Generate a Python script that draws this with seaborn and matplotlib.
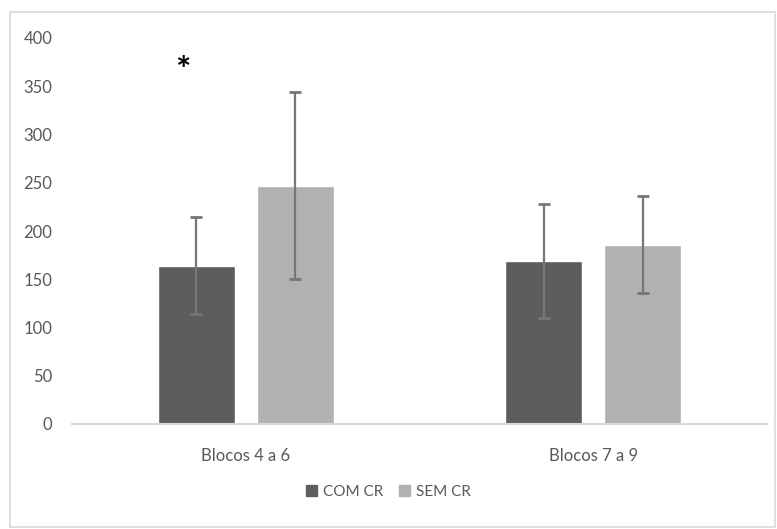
import matplotlib
matplotlib.use("Agg")
import matplotlib.pyplot as plt
import matplotlib.patches as mpatches
import seaborn as sns
import pandas as pd
import numpy as np

categories = ["Blocos 4 a 6", "Blocos 7 a 9"]
groups = ["COM CR", "SEM CR"]
com_cr = [164, 169]
sem_cr = [247, 186]
com_cr_err = [50, 59]
sem_cr_err = [97, 50]

rows = []
for i, c in enumerate(categories):
    rows.append({"cat": c, "grp": groups[0], "val": com_cr[i], "err": com_cr_err[i]})
    rows.append({"cat": c, "grp": groups[1], "val": sem_cr[i], "err": sem_cr_err[i]})
df = pd.DataFrame(rows)

sns.set_theme(style="white")
plt.rcParams['font.family'] = ['Lato', 'DejaVu Sans']

fig = plt.figure(figsize=(7.77, 5.29), dpi=100)
ax = fig.add_axes([72/777, 1-424/529, 695/777, 386/529])

palette = {"COM CR": "#5d5d5d", "SEM CR": "#b1b1b1"}
sns.barplot(data=df, x="cat", y="val", hue="grp", hue_order=groups, order=categories,
            palette=palette, errorbar=None, width=0.57, gap=0.22, ax=ax,
            saturation=1, legend=False)

# error bars at patch centres
for cont, errs in zip(ax.containers, [com_cr_err, sem_cr_err]):
    for patch, e in zip(cont, errs):
        xc = patch.get_x() + patch.get_width() / 2
        h = patch.get_height()
        ax.errorbar(xc, h, yerr=e, color="#767676", capsize=4, capthick=2, elinewidth=1.6)

ax.set_ylim(0, 400)
ax.set_yticks(range(0, 401, 50))
ax.set_xlim(-0.5, 1.5)
ax.set_xlabel("")
ax.set_ylabel("")
for s in ["top", "right", "left"]:
    ax.spines[s].set_visible(False)
ax.spines["bottom"].set_color("#d9d9d9")
ax.spines["bottom"].set_linewidth(1.5)
ax.tick_params(axis="both", length=0, colors="#595959", labelsize=12)
ax.tick_params(axis="x", pad=17)
ax.tick_params(axis="y", pad=14)

# significance marker
ax.text(-0.18, 365, "*", ha="center", va="center", fontsize=26, fontweight="bold",
        color="black")

handles = [mpatches.Patch(color=palette[g], label=g) for g in groups]
leg = fig.legend(handles=handles, loc="center", bbox_to_anchor=(0.5, 1-492/529), ncol=2,
                 frameon=False, fontsize=11, handlelength=0.7, handleheight=0.7,
                 handletextpad=0.4, columnspacing=1.0)
for t in leg.get_texts():
    t.set_color("#595959")

fig.patches.append(mpatches.Rectangle((10/777, 1-527/529), 765/777, 515/529,
                                      transform=fig.transFigure, fill=False,
                                      edgecolor="#d9d9d9", linewidth=1.2))

fig.savefig("out.png", dpi=100)
